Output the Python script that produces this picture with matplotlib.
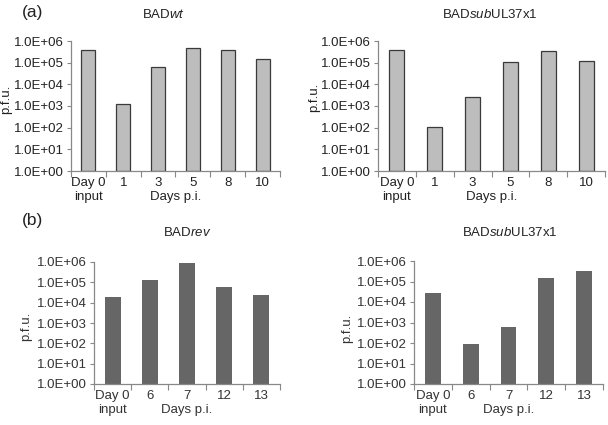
import numpy as np
import matplotlib
matplotlib.use('Agg')
import matplotlib.pyplot as plt
from matplotlib.ticker import FixedLocator, FuncFormatter

plt.rcParams['font.family'] = ['Liberation Sans', 'DejaVu Sans']
plt.rcParams['mathtext.fontset'] = 'custom'
plt.rcParams['mathtext.rm'] = 'Liberation Sans'
plt.rcParams['mathtext.it'] = 'Liberation Sans:italic'

# Data (p.f.u.)
days_a = ['Day 0\ninput', '1', '3', '5', '8', '10']
wt_a = [4.0e5, 1.2e3, 6.6e4, 4.8e5, 4.0e5, 1.5e5]
sub_a = [4.0e5, 1.1e2, 2.6e3, 1.05e5, 3.6e5, 1.2e5]

days_b = ['Day 0\ninput', '6', '7', '12', '13']
rev_b = [1.8e4, 1.25e5, 8.5e5, 5.6e4, 2.4e4]
sub_b = [2.6e4, 93, 580, 1.5e5, 3.4e5]

titles = [r'BAD$\mathit{wt}$', r'BAD$\mathit{sub}$UL37x1',
          r'BAD$\mathit{rev}$', r'BAD$\mathit{sub}$UL37x1']

W, H = 608, 425
FS = 9.5
fig = plt.figure(figsize=(W / 100, H / 100), dpi=100)


def px_axes(left, right, top, bottom):
    return fig.add_axes([left / W, (H - bottom) / H, (right - left) / W, (bottom - top) / H])


panels = [
    # axes box (px), labels, values, bar colour, edge, width, ylabel coords, title pos
    dict(box=(71, 280, 41, 171), cats=days_a, vals=wt_a, fc='#bdbdbd', ec='#3a3a3a', w=0.4,
         yl=(-0.28, 0.55), tpos=(163, 14), tc='#222222'),
    dict(box=(378, 605, 41, 171), cats=days_a, vals=sub_a, fc='#bdbdbd', ec='#3a3a3a', w=0.4,
         yl=(-0.255, 0.565), tpos=(490, 14), tc='#222222'),
    dict(box=(94, 280, 262, 384), cats=days_b, vals=rev_b, fc='#666666', ec='none', w=0.43,
         yl=(-0.33, 0.475), tpos=(187, 233), tc='#333333'),
    dict(box=(414, 603, 261, 384), cats=days_b, vals=sub_b, fc='#666666', ec='none', w=0.42,
         yl=(-0.32, 0.45), tpos=(510, 232), tc='#333333'),
]

for p, title in zip(panels, titles):
    ax = px_axes(*p['box'])
    n = len(p['cats'])
    x = np.arange(n)
    ax.bar(x, p['vals'], width=p['w'], color=p['fc'], edgecolor=p['ec'], linewidth=0.9,
           bottom=1)
    ax.set_yscale('log')
    ax.set_ylim(1, 1e6)
    ax.set_xlim(-0.5, n - 0.5)
    ax.yaxis.set_major_locator(FixedLocator([10.0 ** k for k in range(7)]))
    ax.yaxis.set_minor_locator(FixedLocator([]))
    ax.yaxis.set_major_formatter(FuncFormatter(lambda v, pos: '1.0E+%02d' % round(np.log10(v))))
    ax.set_xticks(np.arange(n + 1) - 0.5)
    ax.set_xticklabels([])
    ax.set_xticks(x, minor=True)
    ax.set_xticklabels(p['cats'], minor=True)
    ax.tick_params(axis='x', which='minor', length=0, pad=4.5, labelsize=FS, colors=p['tc'])
    ax.tick_params(axis='x', which='major', length=4, width=0.8, color='#888888')
    ax.tick_params(axis='y', length=3, width=0.8, color='#888888', labelsize=FS,
                   labelcolor=p['tc'], pad=2)
    for s in ['top', 'right']:
        ax.spines[s].set_visible(False)
    for s in ['left', 'bottom']:
        ax.spines[s].set_color('#888888')
        ax.spines[s].set_linewidth(0.9)
    ax.set_ylabel('p.f.u.', fontsize=FS, color=p['tc'])
    ax.yaxis.set_label_coords(*p['yl'])
    ax.annotate('Days p.i.', xy=(0.5, 0), xycoords='axes fraction', xytext=(0, -18.7),
                textcoords='offset points', ha='center', va='center', fontsize=FS,
                color=p['tc'])
    fig.text(p['tpos'][0] / W, 1 - p['tpos'][1] / H, title, ha='center', va='center',
             fontsize=FS, color='#222222')

fig.text(22 / W, 1 - 12 / H, '(a)', fontsize=12.5, ha='left', va='center', color='#222222')
fig.text(22 / W, 1 - 220 / H, '(b)', fontsize=12.5, ha='left', va='center', color='#222222')

fig.savefig('out.png', dpi=100, facecolor='white')
